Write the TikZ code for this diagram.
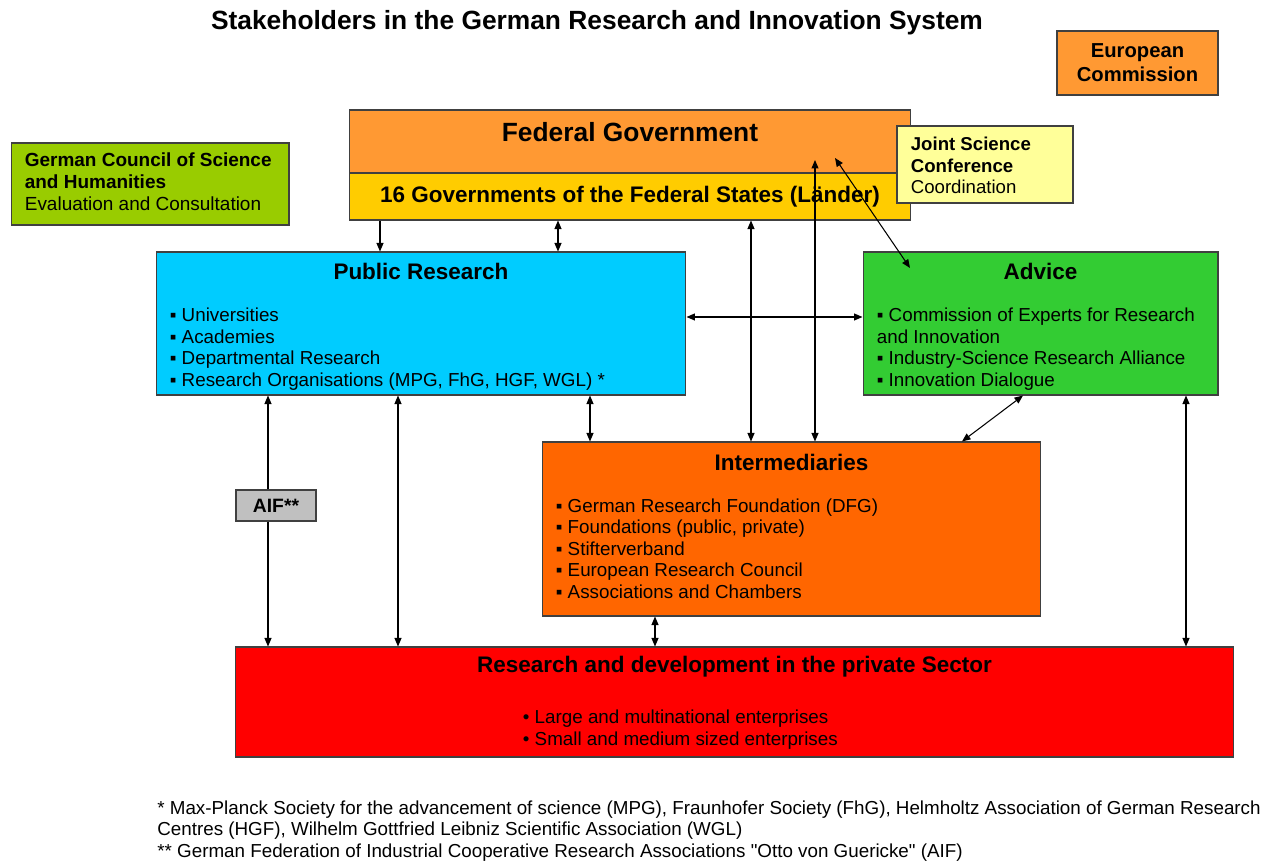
\documentclass[tikz,border=0pt]{standalone}
\usepackage{fontspec}
\setmainfont{Liberation Sans}
\usetikzlibrary{positioning,arrows.meta,calc}
\definecolor{fedorange}{HTML}{FF9933}
\definecolor{laendergold}{HTML}{FFCC00}
\definecolor{jointyellow}{HTML}{FFFF99}
\definecolor{councilgreen}{HTML}{99CC00}
\definecolor{pubblue}{HTML}{00CCFF}
\definecolor{advgreen}{HTML}{33CC33}
\definecolor{interorange}{HTML}{FF6600}
\definecolor{aifgray}{HTML}{C0C0C0}
\definecolor{rdred}{HTML}{FF0000}
\newcommand\dquote{\XeTeXglyph\XeTeXcharglyph34\relax}
\tikzset{
  box/.style={draw=black!75, line width=0.6pt, inner sep=0pt},
  head/.style={font=\bfseries\fontsize{12.8}{15}\selectfont, inner sep=0pt},
  items/.style={align=left, inner sep=0pt, anchor=base west,
              font=\fontsize{10.7}{12.3}\selectfont},
  link/.style={line width=0.6pt},
  >={Triangle[length=1.7mm,width=1.4mm]},
}
\begin{document}
\begin{tikzpicture}[x=0.02cm, y=-0.02cm]
\useasboundingbox (0,0) rectangle (1269,861);

\node[font=\bfseries\fontsize{15}{17}\selectfont] (title) at (597,23)
  {Stakeholders in the German Research and Innovation System};

% government level
\node[box, fill=fedorange, minimum width=11.24cm, minimum height=1.26cm] (fed) at (630,141.5) {};
\node[font=\bfseries\fontsize{15}{18}\selectfont, inner sep=0pt] (fedtxt) at ($(fed.north)+(0,23)$) {Federal Government};
\node[box, fill=laendergold, minimum width=11.24cm, minimum height=0.94cm,
      font=\bfseries\fontsize{12.8}{15}\selectfont] (laender) at (630,196.5)
  {16 Governments of the Federal States (Länder)};
\node[box, fill=fedorange, minimum width=3.22cm, minimum height=1.28cm, align=center,
      font=\bfseries\fontsize{11.5}{13.6}\selectfont] (eu) at (1137.5,63) {European\\Commission};
\node[box, fill=jointyellow, minimum width=3.52cm, minimum height=1.54cm] (joint) at (985,164.5) {};
\node[items, font=\fontsize{10.6}{12.2}\selectfont] (jointtxt) at ($(joint.north west)+(14,68)$)
  {\textbf{Joint Science}\\\textbf{Conference}\\Coordination};
\node[box, fill=councilgreen, minimum width=5.56cm, minimum height=1.64cm] (council) at (150,184) {};
\node[items, font=\fontsize{10.8}{12.5}\selectfont] (counciltxt) at ($(council.north west)+(14,68)$)
  {\textbf{German Council of Science}\\\textbf{and Humanities}\\Evaluation and Consultation};

% research level
\node[box, fill=pubblue, minimum width=10.6cm, minimum height=2.86cm] (pub) at (421,323.5) {};
\node[head] (pubhead) at ($(pub.north)+(0,20)$) {Public Research};
\node[items] (publist) at ($(pub.north west)+(14,135)$)
  {▪ Universities\\▪ Academies\\▪ Departmental Research\\▪ Research Organisations (MPG, FhG, HGF, WGL) *};

\node[box, fill=advgreen, minimum width=7.1cm, minimum height=2.86cm] (adv) at (1040.5,323.5) {};
\node[head] (advhead) at ($(adv.north)+(0,20)$) {Advice};
\node[items] (advlist) at ($(adv.north west)+(14,135)$)
  {▪ Commission of Experts for Research\\and Innovation\\▪ Industry-Science Research Alliance\\▪ Innovation Dialogue};

\node[box, fill=interorange, minimum width=9.98cm, minimum height=3.48cm] (inter) at (791.5,529) {};
\node[head] (interhead) at ($(inter.north)+(0,21)$) {Intermediaries};
\node[items] (interlist) at ($(inter.north west)+(14,157)$)
  {▪ German Research Foundation (DFG)\\▪ Foundations (public, private)\\▪ Stifterverband\\▪ European Research Council\\▪ Associations and Chambers};

\node[box, fill=aifgray, minimum width=1.6cm, minimum height=0.62cm,
      font=\bfseries\fontsize{11}{13}\selectfont] (aif) at (276,505.5) {AIF**};

\node[box, fill=rdred, minimum width=19.98cm, minimum height=2.2cm] (rd) at (734.5,702) {};
\node[head] (rdhead) at ($(rd.north)+(0,20)$) {Research and development in the private Sector};
\node[items] (rdlist) at ($(rd.north west)+(288,99)$)
  {• Large and multinational enterprises\\• Small and medium sized enterprises};

% footnotes
\node[items, font=\fontsize{10.7}{12}\selectfont] (notes) at (157,857)
  {* Max-Planck Society for the advancement of science (MPG), Fraunhofer Society (FhG), Helmholtz Association of German Research\\
   Centres (HGF), Wilhelm Gottfried Leibniz Scientific Association (WGL)\\
   ** German Federation of Industrial Cooperative Research Associations \dquote Otto von Guericke\dquote{} (AIF)};

% connectors
\coordinate (xa) at (380,0);  \coordinate (xb) at (558,0);
\coordinate (xc) at (751,0);  \coordinate (xd) at (815,0);
\coordinate (xe) at (268,0);  \coordinate (xf) at (398,0);
\coordinate (xg) at (590,0);  \coordinate (xh) at (655,0);
\coordinate (xi) at (1186,0); \coordinate (xj) at (1023,0);
\coordinate (xk) at (962,0);  \coordinate (yh) at (0,317);
\coordinate (fedpt) at (815,160);
\coordinate (fedpt2) at (835,158);
\coordinate (advpt) at (910,268);

\draw[link, ->] (laender.south -| xa) -- (pub.north -| xa);
\draw[link, <->] (laender.south -| xb) -- (pub.north -| xb);
\draw[link, <->] (laender.south -| xc) -- (inter.north -| xc);
\draw[link, <->] (fedpt) -- (inter.north -| xd);
\draw[link, <->] (fedpt2) -- (advpt);
\draw[link, <->] (pub.east |- yh) -- (adv.west |- yh);
\draw[link, ->] (aif.north -| xe) -- (pub.south -| xe);
\draw[link, ->] (aif.south -| xe) -- (rd.north -| xe);
\draw[link, <->] (pub.south -| xf) -- (rd.north -| xf);
\draw[link, <->] (pub.south -| xg) -- (inter.north -| xg);
\draw[link, <->] (adv.south -| xj) -- (inter.north -| xk);
\draw[link, <->] (adv.south -| xi) -- (rd.north -| xi);
\draw[link, <->] (inter.south -| xh) -- (rd.north -| xh);
\end{tikzpicture}
\end{document}
